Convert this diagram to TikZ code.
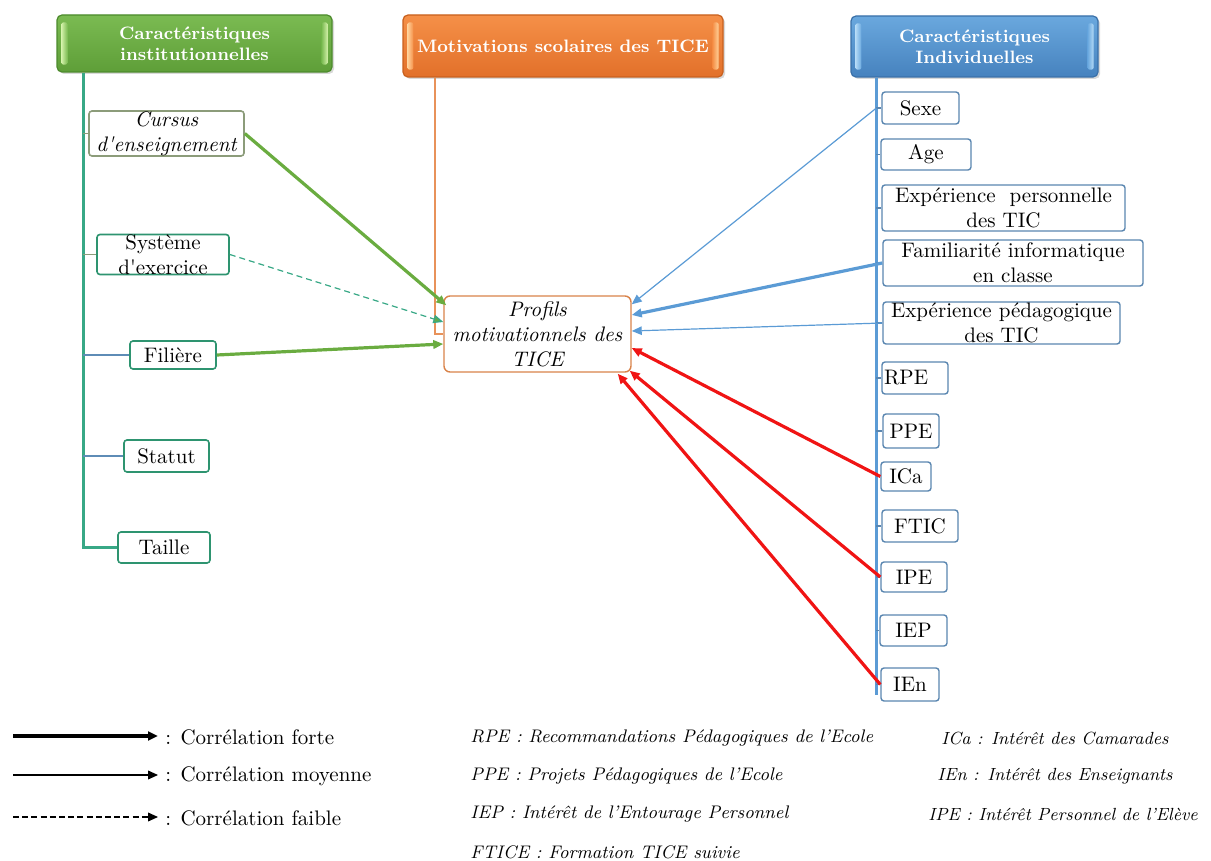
\documentclass[tikz,border=0pt]{standalone}
\usetikzlibrary{arrows.meta,calc,shadows}
\definecolor{grT}{HTML}{7BBB52}
\definecolor{grB}{HTML}{5E9E38}
\definecolor{grD}{HTML}{4C8A2C}
\definecolor{grL}{HTML}{D2F0A8}
\definecolor{orT}{HTML}{F59048}
\definecolor{orB}{HTML}{E2702A}
\definecolor{orD}{HTML}{C8601E}
\definecolor{orL}{HTML}{FFD29A}
\definecolor{blT}{HTML}{6AA8DE}
\definecolor{blB}{HTML}{4682BE}
\definecolor{blD}{HTML}{3A70A8}
\definecolor{blL}{HTML}{B4DAF6}
\definecolor{teal}{HTML}{38A886}
\definecolor{tealD}{HTML}{2E9470}
\definecolor{olive}{HTML}{8C9C7A}
\definecolor{slate}{HTML}{5E8CB6}
\definecolor{boxbl}{HTML}{5A86B0}
\definecolor{profor}{HTML}{D9834A}
\definecolor{orline}{HTML}{E8925A}
\definecolor{garr}{HTML}{6AAC40}
\definecolor{barr}{HTML}{5B9BD5}
\definecolor{rarr}{HTML}{F01414}
\newcommand\hdrfnt{\fontsize{9}{10.4}\selectfont\bfseries}
\newcommand\boxfnt{\fontsize{10.5}{12.5}\selectfont}
\newcommand\legfnt{\fontsize{10.5}{12.5}\selectfont}
\newcommand\legifnt{\fontsize{9.1}{11}\selectfont\itshape}
\newcommand\legrfnt{\fontsize{8.8}{11}\selectfont\itshape}
\begin{document}
\begin{tikzpicture}[x=0.5pt,y=-0.5pt,
  hdrbase/.style={rounded corners=2.5pt, text=white, font=\hdrfnt, align=center, inner sep=0pt, line width=0.6pt,
    drop shadow={opacity=0.3, shadow xshift=1pt, shadow yshift=-1pt}},
  greenhdr/.style={hdrbase, draw=grD, top color=grT, bottom color=grB},
  orangehdr/.style={hdrbase, draw=orD, top color=orT, bottom color=orB},
  bluehdr/.style={hdrbase, draw=blD, top color=blT, bottom color=blB},
  lbox/.style={draw=tealD, rounded corners=1.5pt, line width=0.8pt, fill=white, font=\boxfnt, align=center, inner sep=0pt},
  rbox/.style={draw=boxbl, rounded corners=1.5pt, line width=0.7pt, fill=white, font=\boxfnt, align=center, inner sep=0pt},
  profbox/.style={draw=profor, rounded corners=3pt, line width=0.7pt, fill=white, font=\boxfnt\itshape, align=center, inner sep=0pt},
  ltrunk/.style={draw=teal, line width=1.1pt},
  rtrunk/.style={draw=barr, line width=1.2pt},
  lbranch/.style={draw=slate, line width=0.6pt},
  rtick/.style={draw=boxbl, line width=0.6pt},
  tip/.style={-{Triangle[length=5pt,width=4.2pt]}},
  garrow/.style={tip, draw=garr, line width=1.6pt},
  gdash/.style={-{Triangle[length=5pt,width=4.2pt,fill=garr!80!teal]}, draw=teal, line width=0.6pt, dash pattern=on 3pt off 2pt},
  bthin/.style={tip, draw=barr, line width=0.6pt},
  bthick/.style={tip, draw=barr, line width=1.6pt},
  rarrow/.style={tip, draw=rarr, line width=1.6pt},
  legtxt/.style={font=\legfnt, anchor=west, inner sep=0pt},
  legital/.style={font=\legifnt, anchor=west, inner sep=0pt},
  legitalr/.style={font=\legrfnt, anchor=west, inner sep=0pt}
]
\useasboundingbox (0,0) rectangle (1211,861);

% headers
\node[greenhdr, minimum width=137.5pt, minimum height=28.5pt] (inst) at (194.5,43.5) {Caractéristiques\\institutionnelles};
\node[orangehdr, minimum width=160pt, minimum height=31pt] (moti) at (563,46) {Motivations scolaires des TICE};
\node[bluehdr, minimum width=123.5pt, minimum height=30.5pt] (indiv) at (974.5,46.5) {Caractéristiques\\Individuelles};

% highlight bars
\foreach \h/\c/\d in {inst/grL/grT, moti/orL/orT, indiv/blL/blT}{
  \shade[left color=\c, right color=\d, rounded corners=1pt] ($(\h.north west)+(5,8)$) rectangle ($(\h.south west)+(11,-8)$);
  \shade[left color=\d, right color=\c, rounded corners=1pt] ($(\h.north east)+(-11,8)$) rectangle ($(\h.south east)+(-5,-8)$);
}

% left column
\coordinate (ltop) at ($(inst.south west)+(27,0)$);
\node[lbox, draw=olive, font=\boxfnt\itshape, minimum width=77.5pt, minimum height=22.5pt] (cur) at (166.5,133.5) {Cursus\\d\textquotesingle enseignement};
\node[lbox, minimum width=66pt, minimum height=19.5pt] (sys) at (163,254.5) {Système\\d\textquotesingle exercice};
\node[lbox, minimum width=43pt, minimum height=14pt] (fil) at (173,355) {Filière};
\node[lbox, minimum width=42.5pt, minimum height=16pt] (stat) at (166.5,456) {Statut};
\node[lbox, minimum width=46pt, minimum height=15.5pt] (taille) at (164,547.5) {Taille};

\draw[ltrunk] (ltop) |- (taille.west);
\draw[lbranch, draw=olive] (cur.west -| ltop) -- (cur.west);
\draw[lbranch, draw=olive] (sys.west -| ltop) -- (sys.west);
\draw[lbranch] (fil.west -| ltop) -- (fil.west);
\draw[lbranch] (stat.west -| ltop) -- (stat.west);

% center
\node[profbox, minimum width=93.5pt, minimum height=38pt] (prof) at (537.5,334) {Profils\\motivationnels des\\TICE};
\draw[draw=orline, line width=1pt] ($(moti.south west)+(33,0)$) |- (prof.west);

% right column
\coordinate (rtop) at ($(indiv.south west)+(26,0)$);
\node[rbox, minimum width=38.5pt, minimum height=16pt] (sexe) at (920.5,108) {Sexe};
\node[rbox, minimum width=45pt, minimum height=15.5pt] (age) at (926,154.5) {Age};
\node[rbox, minimum width=121.5pt, minimum height=23pt] (expp) at (1003.5,208) {Expérience\ \ personnelle\\des TIC};
\node[rbox, minimum width=130pt, minimum height=23pt] (fam) at (1013,263) {Familiarité informatique\\en classe};
\node[rbox, minimum width=118.5pt, minimum height=21pt] (expd) at (1001.5,323) {Expérience pédagogique\\des TIC};
\node[rbox, text width=31pt, align=left, inner xsep=1pt, minimum height=16pt] (rpe) at (915,378) {RPE};
\node[rbox, minimum width=28pt, minimum height=17pt] (ppe) at (911,431) {PPE};
\node[rbox, minimum width=25pt, minimum height=14.5pt] (ica) at (906,476.5) {ICa};
\node[rbox, minimum width=38pt, minimum height=16pt] (ftic) at (920,526) {FTIC};
\node[rbox, minimum width=33pt, minimum height=15pt] (ipe) at (914,577) {IPE};
\node[rbox, minimum width=33.5pt, minimum height=15.5pt] (iep) at (913.5,630.5) {IEP};
\node[rbox, minimum width=29pt, minimum height=16.5pt] (ien) at (910,684.5) {IEn};

\draw[rtrunk] (rtop) -- ($(ien.west -| rtop)+(0,10)$);
\foreach \b in {sexe,age,expp,fam,expd,rpe,ppe,ica,ftic,ipe,iep,ien}{
  \draw[rtick] (\b.west -| rtop) -- (\b.west);
}

% arrows
\draw[garrow] (cur.east) -- ($(prof.north west)+(3,10)$);
\draw[gdash] (sys.east) -- ($(prof.west)+(0,-12)$);
\draw[garrow] (fil.east) -- ($(prof.west)+(0,10)$);
\draw[bthin] (sexe.west -| rtop) -- ($(prof.north east)+(0,9)$);
\draw[bthick] (fam.west) -- ($(prof.east)+(0,-19)$);
\draw[bthin] (expd.west) -- ($(prof.east)+(0,-3)$);
\draw[rarrow] (ica.west) -- ($(prof.east)+(0,14)$);
\draw[rarrow] (ipe.west) -- ($(prof.south east)+(-2,-2)$);
\draw[rarrow] (ien.west) -- ($(prof.south east)+(-14,1)$);

% legend
\coordinate (la1) at (13,736); \coordinate (lb1) at (158,736);
\coordinate (la2) at (13,775); \coordinate (lb2) at (158,775);
\coordinate (la3) at (13,817); \coordinate (lb3) at (158,817);
\draw[-{Triangle[length=5pt,width=4.4pt]}, line width=1.6pt] (la1) -- (lb1);
\draw[-{Triangle[length=5pt,width=4.4pt]}, line width=0.6pt] (la2) -- (lb2);
\draw[-{Triangle[length=5pt,width=4.4pt]}, line width=0.6pt, dash pattern=on 3pt off 1.6pt] (la3) -- (lb3);
\node[legtxt] (l1) at (165,737) {: Corrélation forte};
\node[legtxt] (l2) at (165,776) {: Corrélation moyenne};
\node[legtxt] (l3) at (165,818) {: Corrélation faible};

\node[legital] (rpel) at (470,738) {RPE : Recommandations Pédagogiques de l’Ecole};
\node[legital] (ppel) at (470,776) {PPE : Projets Pédagogiques de l’Ecole};
\node[legital] (iepl) at (470,814) {IEP : Intérêt de l’Entourage Personnel};
\node[legital] (fticel) at (470,852) {FTICE : Formation TICE suivie};
\node[legitalr] (ical) at (941,738) {ICa : Intérêt des Camarades};
\node[legitalr] (ienl) at (937,776) {IEn : Intérêt des Enseignants};
\node[legitalr] (ipel) at (928,814) {IPE : Intérêt Personnel de l’Elève};
\end{tikzpicture}
\end{document}
